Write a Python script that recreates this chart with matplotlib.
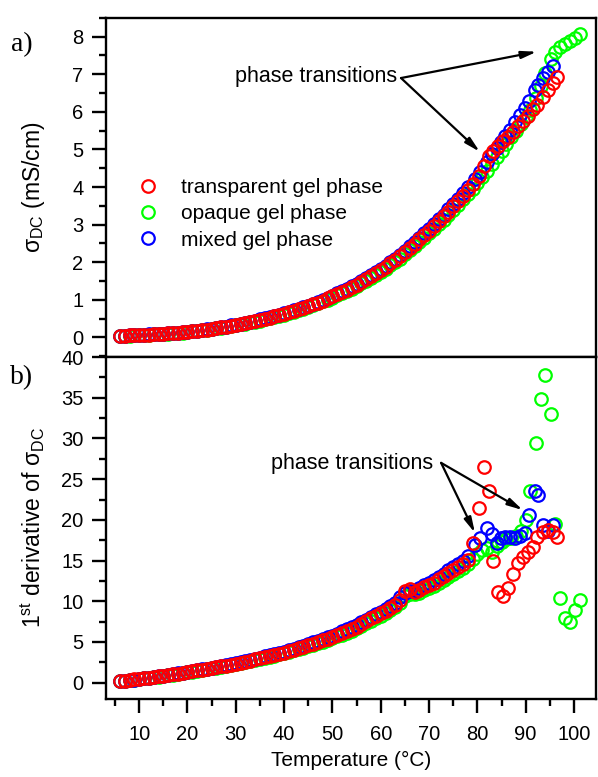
import numpy as np
import matplotlib
matplotlib.use("Agg")
import matplotlib.pyplot as plt
from matplotlib.lines import Line2D
from matplotlib.ticker import MultipleLocator

plt.rcParams['font.family'] = ['Liberation Sans', 'DejaVu Sans']
plt.rcParams['mathtext.fontset'] = 'custom'
plt.rcParams['mathtext.rm'] = 'Liberation Sans'
plt.rcParams['mathtext.it'] = 'Liberation Sans:italic'

#--------------------------------------------------------------------------------------------------
# transparent gel phase (red)
t_red = [6, 7, 8, 9, 10, 11, 12, 13, 14, 15, 16, 17, 18, 19, 20, 21, 22, 23, 24, 25,
         26, 27, 28, 29, 30, 31, 32, 33, 34, 35, 36, 37, 38, 39, 40, 41, 42, 43, 44, 45,
         46, 47, 48, 49, 50, 51, 52, 53, 54, 55, 56, 57, 58, 59, 60, 61, 62, 63, 64, 65,
         66, 67, 68, 69, 70, 71, 72, 73, 74, 75, 76, 77, 78, 79,
         80.3, 81.4, 82.5, 83.3, 84.3, 85.4, 86.4, 87.4, 88.5, 89.5, 90.5, 91.6, 92.3,
         93.6, 94.7, 95.7, 96.5]
sig_red = [0.05, 0.05, 0.06, 0.06, 0.06, 0.07, 0.07, 0.08, 0.09, 0.10, 0.11, 0.12, 0.13, 0.14,
           0.15, 0.16, 0.18, 0.19, 0.21, 0.23, 0.25, 0.27, 0.29, 0.31, 0.33, 0.35, 0.38, 0.41,
           0.43, 0.46, 0.49, 0.53, 0.56, 0.59, 0.63, 0.67, 0.71, 0.75, 0.79, 0.84, 0.88, 0.93,
           0.98, 1.04, 1.09, 1.15, 1.21, 1.27, 1.34, 1.40, 1.47, 1.55, 1.63, 1.71, 1.79, 1.88,
           1.97, 2.06, 2.16, 2.27, 2.38, 2.49, 2.61, 2.72, 2.84, 2.96, 3.09, 3.22, 3.35, 3.49,
           3.63, 3.77, 3.92, 4.07,
           4.30, 4.55, 4.82, 4.97, 5.10, 5.22, 5.33, 5.46, 5.62, 5.75, 5.90, 6.07, 6.19,
           6.40, 6.58, 6.76, 6.92]
der_red = [0.20, 0.25, 0.32, 0.40, 0.47, 0.55, 0.62, 0.70, 0.78, 0.86, 0.95, 1.03, 1.12, 1.21,
           1.30, 1.40, 1.50, 1.60, 1.70, 1.80, 1.90, 2.00, 2.10, 2.20, 2.30, 2.45, 2.60, 2.72,
           2.86, 3.00, 3.14, 3.28, 3.42, 3.56, 3.70, 3.88, 4.05, 4.22, 4.40, 4.60, 4.80, 5.00,
           5.20, 5.40, 5.60, 5.85, 6.10, 6.35, 6.60, 6.90, 7.20, 7.60, 7.90, 8.20, 8.50, 8.80,
           9.20, 9.60, 10.2, 11.3, 11.5, 11.2, 11.4, 11.8, 12.0, 12.3, 12.7, 13.1, 13.5, 13.8,
           14.2, 14.6, 15.1, 17.1,
           21.5, 26.5, 23.5, 15.0, 11.2, 10.6, 11.6, 13.4, 14.7, 15.5, 16.1, 16.7, 17.9,
           18.5, 18.8, 18.5, 17.9]

# opaque gel phase (green)
t_green = [6, 7, 8, 9, 10, 11, 12, 13, 14, 15, 16, 17, 18, 19, 20, 21, 22, 23, 24, 25,
           26, 27, 28, 29, 30, 31, 32, 33, 34, 35, 36, 37, 38, 39, 40, 41, 42, 43, 44, 45,
           46, 47, 48, 49, 50, 51, 52, 53, 54, 55, 56, 57, 58, 59, 60, 61, 62, 63, 64, 65,
           66, 67, 68, 69, 70, 71, 72, 73, 74, 75, 76, 77, 78, 79, 80, 81, 82, 83, 84, 85,
           86, 87, 88, 89, 90, 90.9, 92.1, 93.1, 94.1, 95.2, 96.0, 97.1, 98.1, 99.2, 100.2, 101.2]
sig_green = [0.05, 0.05, 0.05, 0.06, 0.06, 0.07, 0.07, 0.08, 0.09, 0.09, 0.10, 0.11, 0.12, 0.13,
             0.15, 0.16, 0.17, 0.19, 0.21, 0.22, 0.24, 0.26, 0.28, 0.30, 0.32, 0.35, 0.37, 0.40,
             0.42, 0.45, 0.48, 0.51, 0.55, 0.58, 0.61, 0.65, 0.69, 0.73, 0.77, 0.82, 0.86, 0.91,
             0.96, 1.01, 1.06, 1.12, 1.18, 1.24, 1.30, 1.37, 1.44, 1.51, 1.59, 1.66, 1.75, 1.83,
             1.92, 2.01, 2.10, 2.21, 2.32, 2.43, 2.54, 2.65, 2.77, 2.89, 3.01, 3.13, 3.26, 3.39,
             3.53, 3.67, 3.81, 3.96, 4.11, 4.27, 4.44, 4.61, 4.79, 4.96, 5.14, 5.32, 5.50, 5.68,
             5.87, 6.05, 6.36, 6.68, 7.04, 7.40, 7.58, 7.72, 7.81, 7.89, 7.97, 8.06]
der_green = [0.20, 0.25, 0.31, 0.38, 0.45, 0.53, 0.60, 0.68, 0.76, 0.84, 0.92, 1.00, 1.09, 1.18,
             1.27, 1.37, 1.47, 1.57, 1.66, 1.76, 1.86, 1.96, 2.06, 2.16, 2.26, 2.40, 2.53, 2.66,
             2.80, 2.93, 3.07, 3.20, 3.34, 3.48, 3.62, 3.79, 3.96, 4.12, 4.30, 4.48, 4.68, 4.87,
             5.06, 5.26, 5.45, 5.68, 5.92, 6.16, 6.40, 6.68, 6.97, 7.30, 7.62, 7.92, 8.22, 8.52,
             8.90, 9.30, 9.85, 10.6, 10.9, 10.9, 11.0, 11.4, 11.6, 11.9, 12.3, 12.6, 13.0, 13.3,
             13.7, 14.1, 14.6, 15.2, 15.8, 16.3, 16.5, 16.0, 16.8, 17.3, 17.6, 17.8, 18.0, 18.6,
             20.0, 23.5, 29.5, 34.9, 37.8, 33.0, 19.5, 10.4, 7.9, 7.5, 8.9, 10.2]

# mixed gel phase (blue)
t_blue = [6, 7, 8, 9, 10, 11, 12, 13, 14, 15, 16, 17, 18, 19, 20, 21, 22, 23, 24, 25,
          26, 27, 28, 29, 30, 31, 32, 33, 34, 35, 36, 37, 38, 39, 40, 41, 42, 43, 44, 45,
          46, 47, 48, 49, 50, 51, 52, 53, 54, 55, 56, 57, 58, 59, 60, 61, 62, 63, 64, 65,
          66, 67, 68, 69, 70, 71, 72, 73, 74, 75, 76, 77, 78,
          79.5, 80.5, 81.9, 83.0, 84.0, 84.8, 85.7, 86.7, 87.8, 88.9, 89.8, 90.7, 92.0,
          92.6, 93.5, 94.6, 95.7]
sig_blue = [0.05, 0.05, 0.06, 0.06, 0.06, 0.07, 0.08, 0.08, 0.09, 0.10, 0.11, 0.12, 0.13, 0.14,
            0.15, 0.17, 0.18, 0.20, 0.22, 0.23, 0.25, 0.27, 0.29, 0.32, 0.34, 0.36, 0.39, 0.42,
            0.45, 0.48, 0.51, 0.54, 0.58, 0.61, 0.65, 0.69, 0.73, 0.77, 0.81, 0.85, 0.90, 0.95,
            1.00, 1.06, 1.11, 1.17, 1.23, 1.29, 1.36, 1.43, 1.50, 1.58, 1.66, 1.74, 1.82, 1.91,
            2.00, 2.10, 2.20, 2.31, 2.42, 2.53, 2.65, 2.77, 2.89, 3.01, 3.14, 3.27, 3.41, 3.55,
            3.69, 3.84, 3.99,
            4.22, 4.40, 4.66, 4.87, 5.05, 5.19, 5.35, 5.53, 5.73, 5.93, 6.10, 6.28, 6.58,
            6.72, 6.91, 7.07, 7.22]
der_blue = [0.18, 0.24, 0.31, 0.39, 0.47, 0.55, 0.63, 0.71, 0.79, 0.88, 0.96, 1.05, 1.14, 1.23,
            1.33, 1.43, 1.53, 1.63, 1.73, 1.84, 1.94, 2.05, 2.15, 2.26, 2.37, 2.51, 2.66, 2.80,
            2.94, 3.09, 3.24, 3.38, 3.53, 3.68, 3.83, 4.01, 4.19, 4.37, 4.56, 4.76, 4.96, 5.16,
            5.37, 5.58, 5.79, 6.04, 6.29, 6.55, 6.81, 7.10, 7.40, 7.75, 8.08, 8.38, 8.70, 9.00,
            9.40, 9.85, 10.5, 11.0, 11.3, 11.3, 11.6, 12.0, 12.3, 12.6, 13.0, 13.4, 13.8, 14.2,
            14.6, 15.0, 15.6,
            16.9, 17.8, 19.0, 18.3, 17.1, 17.8, 17.9, 17.9, 17.8, 18.0, 18.4, 20.6, 23.5,
            23.1, 19.4, 18.6, 19.4]

labels = ['transparent gel phase', 'opaque gel phase', 'mixed gel phase']
colors = ['#ff0000', '#00ff00', '#0000ff']

#--------------------------------------------------------------------------------------------------

fig = plt.figure(figsize=(5.98, 7.77), dpi=100)
L, R, T, M, B = 0.177, 0.997, 0.977, 0.5405, 0.1004
ax1 = fig.add_axes([L, M, R - L, T - M])
ax2 = fig.add_axes([L, B, R - L, M - B], sharex=ax1)

mk = dict(ls='none', marker='o', mfc='none', ms=9, mew=1.6)

# draw green first, red on top
for ax, ys in ((ax1, (sig_red, sig_green, sig_blue)), (ax2, (der_red, der_green, der_blue))):
    ax.plot(t_green, ys[1], mec=colors[1], **mk)
    ax.plot(t_blue, ys[2], mec=colors[2], **mk)
    ax.plot(t_red, ys[0], mec=colors[0], **mk)

for ax in (ax1, ax2):
    for s in ax.spines.values():
        s.set_linewidth(1.7)
    ax.tick_params(which='both', direction='out', width=1.7, labelsize=14.5, top=False,
                   right=False, pad=6)
    ax.tick_params(which='major', length=10)
    ax.tick_params(which='minor', length=5)

ax1.set_xlim(3.1, 104.6)
ax1.set_ylim(-0.52, 8.5)
ax1.yaxis.set_major_locator(MultipleLocator(1))
ax1.yaxis.set_minor_locator(MultipleLocator(0.5))
ax1.tick_params(axis='x', which='both', bottom=False, labelbottom=False)

ax2.set_ylim(-2, 40)
ax2.yaxis.set_major_locator(MultipleLocator(5))
ax2.yaxis.set_minor_locator(MultipleLocator(2.5))
ax2.xaxis.set_major_locator(MultipleLocator(10))
ax2.xaxis.set_minor_locator(MultipleLocator(5))
ax2.tick_params(axis='x', which='both', pad=8.5)

ax1.set_ylabel(r'σ$_\mathregular{DC}$ (mS/cm)', fontsize=16.5)
ax2.set_ylabel(r'1$^\mathregular{st}$ derivative of σ$_\mathregular{DC}$', fontsize=16.5)
ax1.yaxis.set_label_coords(-0.12, 0.5)
ax2.yaxis.set_label_coords(-0.12, 0.5)
ax2.set_xlabel('Temperature (°C)', fontsize=15, labelpad=5)

handles = [Line2D([], [], mec=c, **mk) for c in colors]
ax1.legend(handles, labels, loc='upper left', bbox_to_anchor=(0.064, 0.528), frameon=False,
           fontsize=15, handlelength=1.0, handletextpad=1.1, labelspacing=0.35, borderpad=0,
           borderaxespad=0)

arr = dict(arrowstyle='-|>,head_length=0.9,head_width=0.22', color='k', lw=1.6, shrinkA=0, shrinkB=0)
ax1.text(46.7, 6.93, 'phase transitions', fontsize=15.5, ha='center', va='center')
ax1.annotate('', xy=(92.3, 7.6), xytext=(64.2, 6.9), arrowprops=arr)
ax1.annotate('', xy=(80.5, 4.94), xytext=(64.2, 6.9), arrowprops=arr)

ax2.text(54.0, 26.9, 'phase transitions', fontsize=15.5, ha='center', va='center')
ax2.annotate('', xy=(79.5, 18.4), xytext=(72.5, 27.0), arrowprops=arr)
ax2.annotate('', xy=(89.4, 21.2), xytext=(72.5, 27.0), arrowprops=arr)

fig.text(22 / 598, 1 - 45 / 777, 'a)', fontsize=20, family='Liberation Serif', ha='center', va='center')
fig.text(22 / 598, 1 - 378 / 777, 'b)', fontsize=20, family='Liberation Serif', ha='center', va='center')

fig.savefig('out.png', dpi=100)
